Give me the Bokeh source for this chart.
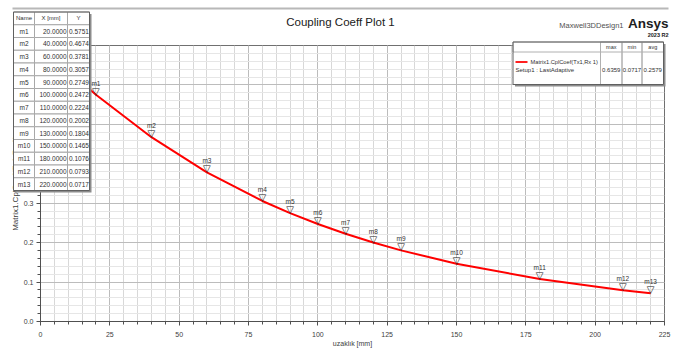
from bokeh.plotting import figure
from bokeh.models import Range1d, FixedTicker, ColumnDataSource, NumeralTickFormatter
from bokeh.core.properties import value
from bokeh.embed import file_html
from bokeh.resources import INLINE

# ---------------- data ----------------
marker_names = ["m1", "m2", "m3", "m4", "m5", "m6", "m7", "m8", "m9", "m10", "m11", "m12", "m13"]
marker_x = [20, 40, 60, 80, 90, 100, 110, 120, 130, 150, 180, 210, 220]
marker_y = [0.5751, 0.4674, 0.3781, 0.3057, 0.2749, 0.2472, 0.2224, 0.2002, 0.1804,
            0.1465, 0.1076, 0.0793, 0.0717]
start_x = [10]
start_y = [0.6359]
curve_x = start_x + marker_x
curve_y = start_y + marker_y
x_ticks = [0, 25, 50, 75, 100, 125, 150, 175, 200, 225]
y_ticks = [0.0, 0.1, 0.2, 0.3, 0.4, 0.5, 0.6, 0.7]
stat_names = ["max", "min", "avg"]
stat_values = ["0.6359", "0.0717", "0.2579"]
table_headers = ["Name", "X [mm]", "Y"]
title_text = "Coupling Coeff Plot 1"
design_text = "Maxwell3DDesign1"
brand_text = "Ansys"
version_text = "2023 R2"
x_label = "uzaklık [mm]"
y_label = "Matrix1.CplCoef(Tx1,Rx 1)"
series_label = "Matrix1.CplCoef(Tx1,Rx 1)"
setup_label = "Setup1 : LastAdaptive"

FONT = "Liberation Sans"
W, H = 677, 349
FL, FR, FT, FB = 40, 664, 45, 321

# ---------------- main plot ----------------
p = figure(width=W, height=H, x_range=Range1d(0, 225), y_range=Range1d(0, 0.7),
           output_backend="svg", toolbar_location=None,
           min_border_left=FL, min_border_right=W - FR, min_border_top=FT, min_border_bottom=H - FB,
           background_fill_color="white", border_fill_color="white")
p.outline_line_color = "#707070"
p.outline_line_width = 1

p.xaxis.ticker = FixedTicker(ticks=x_ticks, minor_ticks=[v for v in range(0, 226, 5)])
p.yaxis.ticker = FixedTicker(ticks=y_ticks, minor_ticks=[round(i * 0.02, 2) for i in range(36)])
p.yaxis.formatter = NumeralTickFormatter(format="0.0")

for ax in (p.xaxis, p.yaxis):
    ax.axis_line_color = "#505050"
    ax.major_tick_line_color = "#505050"
    ax.minor_tick_line_color = "#505050"
    ax.major_tick_out = 4
    ax.major_tick_in = 0
    ax.minor_tick_out = 3
    ax.minor_tick_in = 0
    ax.major_label_text_font = FONT
    ax.major_label_text_font_size = "7px"
    ax.major_label_text_color = "#404040"
    ax.axis_label_text_font = FONT
    ax.axis_label_text_font_style = "normal"
    ax.axis_label_text_color = "#404040"

p.xaxis.axis_label = x_label
p.yaxis.axis_label = y_label
p.xaxis.axis_label_text_font_size = "7px"
p.yaxis.axis_label_text_font_size = "8px"
p.xaxis.major_label_standoff = 6
p.xaxis.axis_label_standoff = 0
p.yaxis.major_label_standoff = 3
p.yaxis.axis_label_standoff = 1

p.xgrid.grid_line_color = "#bcbcbc"
p.ygrid.grid_line_color = "#bcbcbc"
p.xgrid.minor_grid_line_color = "#d8d8d8"
p.ygrid.minor_grid_line_color = "#e6e6e6"

# curve
p.line(curve_x, curve_y, line_color="#ff0000", line_width=2)

# markers
msrc = ColumnDataSource(dict(x=marker_x, y=marker_y, name=marker_names,
                             tri=["\u25bd"] * len(marker_x)))
p.text(x="x", y="y", text="tri", source=msrc, text_align="center", text_baseline="bottom",
       text_font=value("DejaVu Sans"), text_font_size="10px", text_color="#202020", y_offset=2)
p.text(x="x", y="y", text="name", source=msrc, text_align="center", text_baseline="bottom",
       text_font=value(FONT), text_font_size="6.5px", text_color="#303030", y_offset=-8)

# ---------------- overlay (report decorations, canvas pixel space) ----------------
q = figure(width=W, height=H, x_range=Range1d(0, W), y_range=Range1d(H, 0),
           output_backend="svg", toolbar_location=None,
           min_border_left=0, min_border_right=0, min_border_top=0, min_border_bottom=0,
           x_axis_location=None, y_axis_location=None,
           background_fill_color=None, border_fill_color=None, outline_line_color=None)
q.grid.visible = False
q.styles = {"position": "absolute", "left": "0px", "top": "0px"}


def quads(boxes, fill, line=None, lw=1):
    l, t, r, b = zip(*boxes)
    q.quad(left=list(l), top=list(t), right=list(r), bottom=list(b),
           fill_color=fill, line_color=line, line_width=lw)


def texts(xs, ys, ts, size, align="left", baseline="middle", color="#303030", style="normal"):
    q.text(x=list(xs), y=list(ys), text=list(ts), text_font=value(FONT),
           text_font_size=f"{size}px", text_align=align, text_baseline=baseline,
           text_color=color, text_font_style=style)


# top rule
quads([(12, 7, 668, 9)], fill="#b8b8b8")

# titles
texts([340], [21], [title_text], 11.5, align="center", color="#202020")
texts([623], [25], [design_text], 7.5, align="right", color="#505050")
texts([668], [23], [brand_text], 13.5, align="right", color="#202020", style="bold")
texts([668], [34], [version_text], 5.5, align="right", color="#202020", style="bold")

# marker table
cols = [13, 34, 67, 89]
row_top = 11.5
rh = 12.75
nrows = len(marker_names) + 1
table_bottom = row_top + nrows * rh
quads([(cols[0] + 2, row_top + 2, cols[-1] + 2, table_bottom + 2)], fill="#8c8c8c")
cells = [(cols[c], row_top + r * rh, cols[c + 1], row_top + (r + 1) * rh)
         for r in range(nrows) for c in range(3)]
quads(cells, fill="white", line="#a8a8a8")
quads([(cols[0], row_top, cols[-1], table_bottom)], fill=None, line="#606060")
texts([(cols[c] + cols[c + 1]) / 2 for c in range(3)], [row_top + rh / 2] * 3,
      table_headers, 6, align="center")
row_y = [row_top + (r + 1.5) * rh for r in range(len(marker_names))]
texts([(cols[0] + cols[1]) / 2] * len(marker_names), row_y, marker_names, 6.5, align="center")
texts([cols[2] - 1] * len(marker_x), row_y, [f"{v:.4f}" for v in marker_x], 6.5, align="right")
texts([cols[2] + 1.5] * len(marker_y), row_y, [f"{v:.4f}" for v in marker_y], 6.5, align="left")

# stats legend
L0, L1, T0, T1 = 512.5, 663, 41.5, 84
scols = [600, 621.5, 641.5, L1]
quads([(L0 + 2, T0 + 2, L1 + 2, T1 + 2)], fill="#8c8c8c")
quads([(L0, T0, L1, T1)], fill="white", line=None)
quads([(L0, T0, L1, 51.5)] + [(scols[c], T0, scols[c + 1], T1) for c in range(3)],
      fill=None, line="#b0b0b0")
quads([(L0, T0, L1, T1)], fill=None, line="#606060")
scx = [(scols[c] + scols[c + 1]) / 2 for c in range(3)]
texts(scx, [46.5] * 3, stat_names, 5.5, align="center")
texts(scx, [69.5] * 3, stat_values, 6, align="center")
q.line([515, 527], [61.5, 61.5], line_color="#ff2020", line_width=2)
texts([530], [61.5], [series_label], 5.7)
texts([515], [69.5], [setup_label], 6)

open("out.html", "w").write(file_html([p, q], INLINE))
